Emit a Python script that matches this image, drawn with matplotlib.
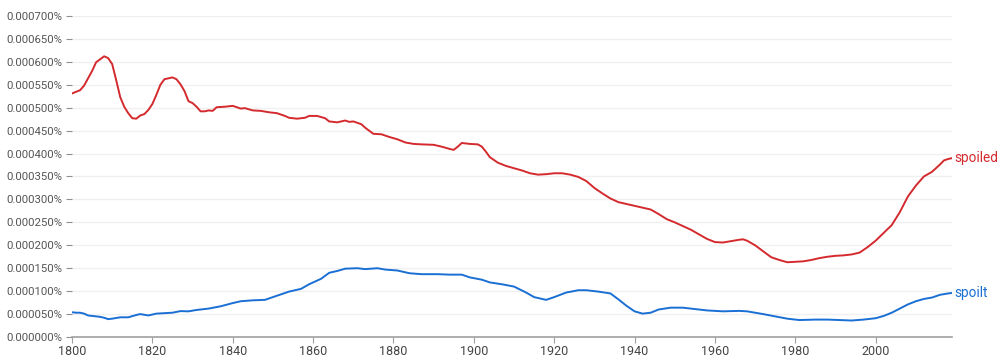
import numpy as np
import matplotlib.pyplot as plt
from matplotlib.ticker import FuncFormatter

# values in units of 1e-4 percent
spoiled_years = [1800, 1802, 1803, 1805, 1806, 1808, 1809, 1810, 1811, 1812, 1813, 1814, 1815,
                 1816, 1817, 1818, 1819, 1820, 1821, 1822, 1823, 1824, 1825, 1826, 1827, 1828,
                 1829, 1830, 1831, 1832, 1833, 1834, 1835, 1836, 1838, 1840, 1842, 1843, 1845,
                 1847, 1849, 1851, 1853, 1854, 1856, 1858, 1859, 1861, 1863, 1864, 1866, 1868,
                 1869, 1870, 1872, 1873, 1875, 1877, 1879, 1881, 1883, 1885, 1887, 1890, 1892,
                 1894, 1895, 1896, 1897, 1899, 1901, 1902, 1903, 1904, 1906, 1908, 1910, 1912,
                 1914, 1916, 1918, 1920, 1922, 1924, 1926, 1928, 1930, 1932, 1934, 1936, 1938,
                 1940, 1942, 1944, 1946, 1948, 1950, 1952, 1954, 1956, 1958, 1960, 1962, 1964,
                 1966, 1967, 1968, 1970, 1972, 1974, 1976, 1978, 1980, 1982, 1984, 1986, 1988,
                 1990, 1992, 1994, 1996, 1998, 2000, 2002, 2004, 2006, 2008, 2010, 2012, 2014,
                 2016, 2017, 2018, 2019]
spoiled = [5.31, 5.38, 5.48, 5.80, 5.99, 6.12, 6.08, 5.95, 5.60, 5.23, 5.02, 4.88, 4.77,
           4.76, 4.83, 4.86, 4.95, 5.08, 5.28, 5.50, 5.62, 5.64, 5.66, 5.62, 5.51, 5.36,
           5.14, 5.10, 5.02, 4.92, 4.92, 4.94, 4.93, 5.01, 5.02, 5.04, 4.98, 4.99, 4.94,
           4.93, 4.90, 4.88, 4.82, 4.78, 4.76, 4.78, 4.82, 4.82, 4.77, 4.70, 4.68, 4.72,
           4.69, 4.70, 4.64, 4.56, 4.43, 4.42, 4.36, 4.31, 4.24, 4.21, 4.20, 4.19, 4.15,
           4.10, 4.08, 4.15, 4.23, 4.21, 4.20, 4.15, 4.04, 3.92, 3.80, 3.73, 3.68, 3.63,
           3.57, 3.54, 3.55, 3.57, 3.57, 3.54, 3.49, 3.40, 3.25, 3.13, 3.02, 2.94, 2.90,
           2.86, 2.82, 2.78, 2.68, 2.57, 2.50, 2.42, 2.34, 2.24, 2.14, 2.07, 2.06, 2.09,
           2.12, 2.13, 2.10, 2.00, 1.87, 1.74, 1.68, 1.63, 1.64, 1.65, 1.68, 1.72, 1.75,
           1.77, 1.78, 1.80, 1.84, 1.96, 2.10, 2.27, 2.44, 2.72, 3.06, 3.30, 3.50, 3.60,
           3.76, 3.85, 3.88, 3.90]

spoilt_years = [1800, 1801, 1802, 1803, 1804, 1806, 1807, 1808, 1809, 1810, 1812, 1814, 1816,
                1817, 1819, 1821, 1823, 1825, 1827, 1829, 1831, 1834, 1837, 1840, 1842, 1845,
                1848, 1851, 1854, 1857, 1859, 1862, 1864, 1866, 1868, 1871, 1873, 1876, 1878,
                1881, 1884, 1887, 1891, 1894, 1897, 1899, 1902, 1904, 1907, 1910, 1913, 1915,
                1918, 1920, 1923, 1926, 1928, 1931, 1934, 1936, 1938, 1940, 1942, 1944, 1946,
                1949, 1952, 1955, 1958, 1962, 1966, 1968, 1972, 1975, 1978, 1981, 1985, 1988,
                1991, 1994, 1997, 2000, 2002, 2004, 2006, 2008, 2010, 2012, 2014, 2016, 2018,
                2019]
spoilt = [0.54, 0.53, 0.53, 0.51, 0.47, 0.45, 0.44, 0.42, 0.39, 0.40, 0.43, 0.43, 0.48,
          0.50, 0.47, 0.51, 0.52, 0.53, 0.565, 0.56, 0.59, 0.62, 0.67, 0.74, 0.78, 0.80,
          0.81, 0.90, 0.99, 1.05, 1.15, 1.27, 1.40, 1.44, 1.49, 1.50, 1.48, 1.50, 1.47,
          1.45, 1.39, 1.37, 1.37, 1.36, 1.36, 1.30, 1.25, 1.19, 1.15, 1.10, 0.97, 0.87,
          0.81, 0.87, 0.97, 1.02, 1.02, 0.99, 0.95, 0.82, 0.68, 0.56, 0.51, 0.53, 0.60,
          0.64, 0.64, 0.61, 0.58, 0.56, 0.57, 0.56, 0.50, 0.45, 0.40, 0.37, 0.38, 0.38,
          0.37, 0.36, 0.38, 0.41, 0.46, 0.53, 0.62, 0.71, 0.78, 0.83, 0.86, 0.92, 0.95,
          0.96]

yticks = np.arange(0, 15) * 0.5e-4
xticks = np.arange(1800, 2001, 20)

plt.rcParams['font.family'] = ['Roboto', 'DejaVu Sans']

fig = plt.figure(figsize=(10, 3.62), dpi=100)
ax = fig.add_axes([0.072, 0.069, 0.880, 0.887])

red = '#d42a2e'
blue = '#1a6fd4'
ax.plot(spoiled_years, np.array(spoiled) * 1e-4, color=red, lw=1.4, solid_joinstyle='round')
ax.plot(spoilt_years, np.array(spoilt) * 1e-4, color=blue, lw=1.4, solid_joinstyle='round')

ax.text(2019.6, spoiled[-1] * 1e-4, 'spoiled', color=red, fontsize=9.8, va='center', ha='left')
ax.text(2019.6, spoilt[-1] * 1e-4, 'spoilt', color=blue, fontsize=9.8, va='center', ha='left')

ax.set_xlim(1800, 2019)
ax.set_ylim(0, 0.0007)
ax.set_yticks(yticks)
ax.set_xticks(xticks)
ax.yaxis.set_major_formatter(FuncFormatter(lambda v, p: f'{v:.6f}%'))

ax.grid(axis='y', color='#f0f0f0', lw=1)
ax.set_axisbelow(True)
for s in ['top', 'right', 'left']:
    ax.spines[s].set_visible(False)
ax.spines['bottom'].set_color('#a0a0a0')
ax.spines['bottom'].set_linewidth(1.2)

ax.tick_params(axis='y', length=4, width=0.8, color='#909090', pad=3,
               labelsize=8.2, labelcolor='#555555')
ax.tick_params(axis='x', length=4, width=0.8, color='#a0a0a0', pad=2,
               labelsize=9, labelcolor='#444444')

fig.savefig('out.png', dpi=100, facecolor='white')
